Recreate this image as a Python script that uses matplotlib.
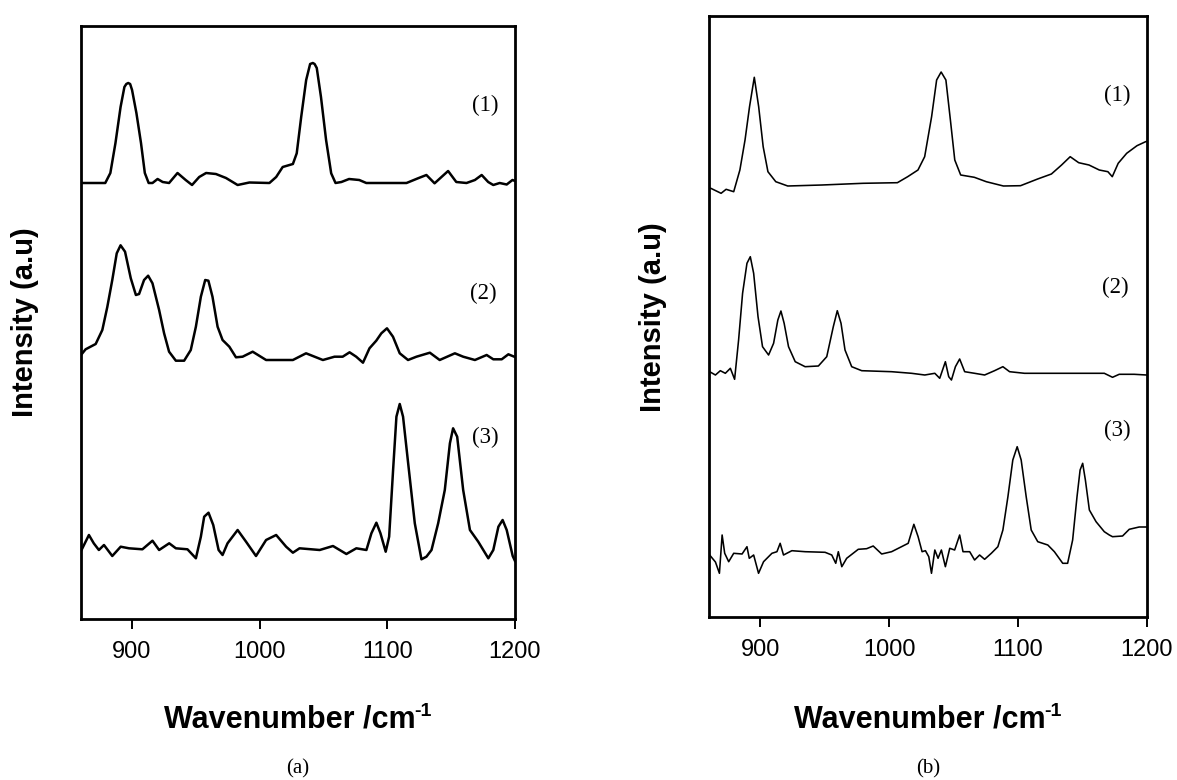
import matplotlib
matplotlib.use("Agg")
import matplotlib.pyplot as plt

# ---- spectra, panel (a) ----
a1_x = [860, 879, 883, 887, 891, 894, 895.5, 897, 898.5, 900, 903.4, 907, 910, 913, 916, 920,
        924, 929, 935.6, 942, 947, 952.6, 958, 965.7, 973.6, 982.7, 991.9, 1007.6, 1012.9,
        1018, 1026, 1029, 1032.5, 1036.4, 1039.5, 1041.6, 1043, 1044.7, 1048, 1052, 1056,
        1059.4, 1064, 1070, 1078, 1083.5, 1115, 1124, 1130.6, 1137, 1142.4, 1147.6, 1154,
        1162, 1168.6, 1173.9, 1179, 1183, 1188, 1193.5, 1198, 1200]
a1_y = [436, 436, 446, 476, 512, 532, 535, 536, 535, 529, 506, 476, 446, 436, 436, 440,
        437, 436, 446, 439, 434, 442, 446, 445, 441, 434, 436.5, 436, 442,
        452, 455, 465.7, 502, 539, 555, 556, 555, 551, 522, 479, 445.7,
        436, 437, 440, 439, 436, 436, 440.7, 444, 435.7, 442, 448, 437,
        436, 439, 444, 437, 434, 436, 434.5, 439, 438]

a2_x = [860, 863.6, 871.5, 876.7, 880.6, 884.5, 888, 891, 894.5, 899, 903, 905.5, 909.4,
        912.6, 916, 921.2, 925.1, 929, 934.3, 940.8, 946, 950, 953.9, 957.3, 959.8, 963,
        967, 970.9, 976.2, 981.4, 986.6, 994.5, 1005, 1026, 1036.3, 1049.5, 1058.6, 1065,
        1070.4, 1075.6, 1080.9, 1086, 1091.3, 1095.3, 1099.7, 1104.4, 1109.7, 1116.2,
        1122.8, 1133.3, 1141, 1152.9, 1159.4, 1168.6, 1177.8, 1183, 1189.6, 1194.8, 1200]
a2_y = [264, 269.7, 275, 289, 312, 339, 365.7, 373.7, 367.3, 340.7, 324, 325, 339,
        343.3, 335.7, 309, 285.7, 267.3, 258.3, 258.3, 269, 292.3, 322.3, 339, 338.3, 322.3,
        292.3, 279, 272.3, 261.7, 262.3, 267.3, 259, 259, 265.7, 259, 262.3, 262.3,
        266.7, 262.3, 256.3, 270.7, 278.3, 285.7, 290.7, 282.3, 265.7, 259,
        262.3, 266.3, 259, 265.7, 262.3, 259, 264, 259.7, 259.7, 264.7, 262]

a3_x = [860.4, 866.2, 870, 874, 878, 884.5, 891.1, 897.6, 908.1, 916, 921.2, 929.1, 934.3,
        943.4, 950, 953.9, 956.5, 959.9, 963.6, 967.8, 970.9, 974.8, 982.7, 989.3, 997.1,
        1005, 1012.9, 1020.7, 1026, 1031.2, 1047, 1057.4, 1067.9, 1075.7, 1083.6, 1087.5,
        1091.4, 1094.6, 1098.7, 1101.4, 1104.5, 1107.1, 1109.7, 1112.3, 1116.3, 1121.5,
        1126.7, 1130.6, 1134.6, 1139.8, 1145, 1149, 1151.5, 1154.7, 1159.4, 1164.7, 1171.2,
        1179.1, 1183, 1187, 1190.3, 1193.5, 1198.2, 1200]
a3_y = [69, 84, 75.7, 69, 74, 63, 72.3, 70.7, 69.7, 78.3, 69, 75.7, 70.7,
        69.7, 60.7, 82.3, 102.3, 106.3, 94, 69, 64, 75.7, 89, 77.3, 63,
        79, 84, 72.3, 66.3, 70.7, 69, 73, 65, 70.7, 69, 85.7,
        96.3, 85.7, 67.3, 82.3, 149, 202.3, 215, 202.3, 155.7, 95.7,
        59.7, 62.3, 69, 95.7, 129, 175.7, 190.7, 182.3, 129, 89, 77.3,
        60.7, 69, 92.3, 99, 89, 63, 58]

# ---- spectra, panel (b) ----
b1_x = [860, 861.4, 869.4, 873.3, 879.2, 884, 888, 891.5, 895.2, 898.6, 902.1, 905.8, 911.9,
        921.2, 947.8, 979.7, 1006.4, 1014.4, 1022.4, 1027.6, 1033, 1036.9, 1040.4, 1044.1,
        1047.6, 1051, 1055.6, 1066.2, 1075.5, 1088.8, 1102.1, 1115.4, 1126.1, 1134, 1140.7,
        1147.3, 1155.3, 1163.3, 1170, 1173.4, 1178, 1184.6, 1192.6, 1199.3, 1200]
b1_y = [428.7, 428.7, 423.7, 427.7, 425.3, 447, 477, 510.3, 539.7, 510.3, 470.3, 445.3, 435.3,
        431, 432, 433.7, 434.3, 440.3, 447, 460.3, 500.3, 537, 545, 537,
        497, 457, 442, 439.7, 435.3, 431, 431.3, 438, 443, 452, 460.3,
        454.3, 452, 447, 445.3, 440.3, 453.7, 463.7, 471.3, 475.3, 475.5]

b2_x = [860.5, 865, 868.8, 872.7, 876.6, 879.9, 883, 886.1, 889.5, 892.1, 894.7, 898.1,
        901.6, 906.3, 910.2, 913.5, 915.9, 918.4, 921.8, 927, 934.7, 945, 951.5, 956.6,
        959.7, 962.6, 965.7, 970.9, 978.7, 1001.9, 1017.4, 1027.7, 1035.5, 1039.3, 1043.7,
        1046.3, 1048.4, 1051.5, 1054.8, 1058.7, 1066.4, 1074.2, 1081.9, 1088.4, 1093.6,
        1105.2, 1128.4, 1149.1, 1167.2, 1173.6, 1178.8, 1190.4, 1200]
b2_y = [245.3, 242, 246.3, 243.7, 248.7, 237.7, 277, 323.7, 353.7, 360.3, 343.7, 300.3,
        270.3, 262, 273.7, 297, 306, 293.7, 270.3, 255.3, 250.3, 251, 260.3, 290.3,
        306.3, 293.7, 267, 250.3, 246.3, 245.3, 243.7, 242, 243.7, 238.7, 255.3,
        240.3, 237, 250.3, 258, 245.3, 243.7, 242, 246.3, 250.3, 245.3,
        243.7, 243.7, 243.7, 243.7, 239.7, 242.7, 242.7, 242]

b3_x = [860.5, 865, 868.1, 870.2, 872.2, 875.3, 879.2, 885.7, 889.5, 891.3, 894.7, 898.5,
        902.4, 908.9, 912.8, 915.3, 917.9, 924.4, 934.7, 950.2, 955.4, 958.5, 960.5, 963.2,
        967, 976, 982.5, 987.6, 994.2, 1001.9, 1009.6, 1014.8, 1019.2, 1022.5, 1025.6,
        1028.2, 1030.8, 1032.9, 1035.5, 1038, 1040.6, 1043.7, 1047.1, 1050.9, 1054.8,
        1057.4, 1062.6, 1066.4, 1070.3, 1074.2, 1079.4, 1084.5, 1088.4, 1092.3, 1096.1,
        1099.5, 1102.6, 1106.5, 1110.4, 1115.5, 1123.3, 1128.4, 1134.9, 1138.7, 1142.6,
        1146, 1148.4, 1150.4, 1152.5, 1155.6, 1160.8, 1167.2, 1171.1, 1173.6, 1181.4,
        1186.6, 1194.3, 1200]
b3_y = [62, 55, 43.7, 82, 63.7, 55.3, 63.7, 63, 70.3, 58.7, 62, 43.7,
        55.3, 63.7, 65.3, 73.7, 62, 66.3, 65.3, 64.7, 62, 53.7, 65.3, 50.3,
        58.7, 67.7, 68.3, 71, 63, 65.3, 70.3, 73.7, 92.7, 80.3, 65.3,
        66.3, 60.3, 43.7, 67, 58.7, 67, 50.3, 68.7, 67, 82,
        65.3, 65.3, 57, 62, 57.7, 63.7, 70.3, 87, 120.3, 157,
        170.3, 157, 120.3, 87, 75.3, 72, 65.3, 53.7, 53.7, 77,
        120.3, 147, 153.7, 137, 107, 95.3, 85.3, 82, 80.3, 81,
        87.7, 90, 90]

x_ticks = [900, 1000, 1100, 1200]
curve_tags = ["(1)", "(2)", "(3)"]
panel_tags = ["(a)", "(b)"]
x_label_main = "Wavenumber /cm"
x_label_sup = "-1"
y_label = "Intensity (a.u)"

W, H = 1177, 780
fig = plt.figure(figsize=(W / 100, H / 100), dpi=100)

SANS = "Liberation Sans"
SERIF = "Liberation Serif"


def px_axes(left, top, right, bottom):
    return fig.add_axes([left / W, 1 - bottom / H, (right - left) / W, (bottom - top) / H])


def style(ax, ymax):
    ax.set_xlim(860, 1200)
    ax.set_ylim(0, ymax)
    ax.set_xticks(x_ticks)
    ax.set_xticklabels([str(t) for t in x_ticks], fontfamily=SANS, fontsize=17)
    ax.set_yticks([])
    ax.tick_params(axis="x", direction="out", length=7, width=1.4, pad=9, top=False)
    for sp in ax.spines.values():
        sp.set_linewidth(2.0)
        sp.set_color("black")


# panel (a)
ax_a = px_axes(81, 26, 515, 619)
style(ax_a, 593)
for xs, ys in [(a1_x, a1_y), (a2_x, a2_y), (a3_x, a3_y)]:
    ax_a.plot(xs, ys, color="black", lw=1.8)
for tag, (tx, ty) in zip(curve_tags, [(485, 105), (483, 293), (485, 437)]):
    fig.text(tx / W, 1 - ty / H, tag, family=SERIF, fontsize=16.5, ha="center", va="center")

# panel (b)
ax_b = px_axes(709, 16, 1146.5, 617)
style(ax_b, 601)
for xs, ys in [(b1_x, b1_y), (b2_x, b2_y), (b3_x, b3_y)]:
    ax_b.plot(xs, ys, color="black", lw=1.15)
for tag, (tx, ty) in zip(curve_tags, [(1117, 95), (1115, 287), (1117, 430)]):
    fig.text(tx / W, 1 - ty / H, tag, family=SERIF, fontsize=16.5, ha="center", va="center")

# axis titles and panel tags
for cx, cy in [(25, 322), (653, 317)]:
    fig.text(cx / W, 1 - cy / H, y_label, family=SANS, fontweight="bold", fontsize=21,
             rotation=90, ha="center", va="center")

renderer = fig.canvas.get_renderer()
for cx in [298, 928]:
    main = fig.text(0, 1 - 728 / H, x_label_main, family=SANS, fontweight="bold",
                    fontsize=22, ha="left", va="baseline")
    sup = fig.text(0, 1 - 716 / H, x_label_sup, family=SANS, fontweight="bold",
                   fontsize=14, ha="left", va="baseline")
    wm = main.get_window_extent(renderer).width
    ws = sup.get_window_extent(renderer).width
    left = cx - (wm + ws) / 2
    main.set_x(left / W)
    sup.set_x((left + wm - 1) / W)

for cx, tag in zip([298, 928], panel_tags):
    fig.text(cx / W, 1 - 769 / H, tag, family=SERIF, fontsize=15, ha="center", va="center")

fig.savefig("out.png", dpi=100)
